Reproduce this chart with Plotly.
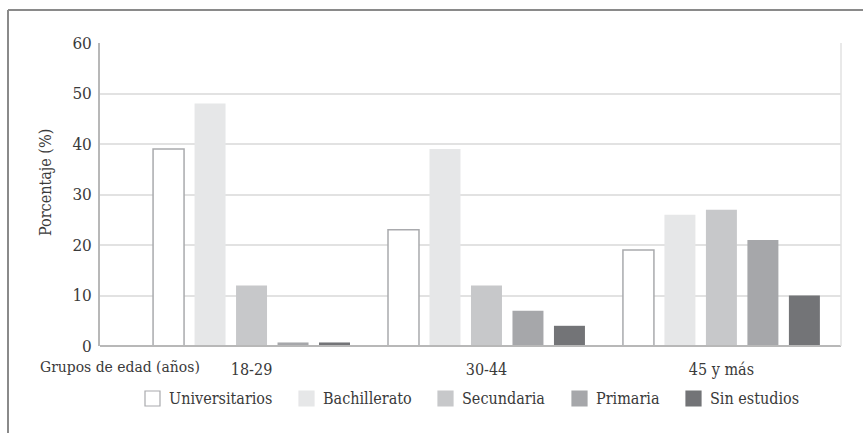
import plotly.graph_objects as go

# Age groups and share (%) of each education level within them
grupos = ["18-29", "30-44", "45 y más"]
niveles = ["Universitarios", "Bachillerato", "Secundaria", "Primaria", "Sin estudios"]
universitarios = [39, 23, 19]
bachillerato = [48, 39, 26]
secundaria = [12, 12, 27]
primaria = [0.7, 7, 21]
sin_estudios = [0.7, 4, 10]

valores = [universitarios, bachillerato, secundaria, primaria, sin_estudios]
rellenos = ["#ffffff", "#e6e7e8", "#c7c8ca", "#a6a7aa", "#737477"]
bordes = ["#a9aaad", "#e6e7e8", "#c7c8ca", "#a6a7aa", "#737477"]
grosor = [1.5, 0, 0, 0, 0]

FUENTE = "DejaVu Serif Condensed, DejaVu Serif, serif"
TEXTO = "#3a3a3a"

xpos = list(range(len(grupos)))

fig = go.Figure()
for nombre, vals, relleno, borde, g in zip(niveles, valores, rellenos, bordes, grosor):
    fig.add_trace(go.Bar(
        x=xpos, y=vals, name=nombre,
        marker=dict(color=relleno, line=dict(color=borde, width=g)),
        hoverinfo="y+name", showlegend=False,
    ))

W, H = 863, 433
L, R, T, B = 100, 22, 43, 87
pw, ph = W - L - R, H - T - B

def px_x(p):
    return (p - L) / pw

def px_y(p):
    return (H - B - p) / ph

fig.update_layout(
    width=W, height=H,
    margin=dict(l=L, r=R, t=T, b=B, pad=0),
    paper_bgcolor="white", plot_bgcolor="white",
    barmode="group", bargap=0.117, bargroupgap=0.253,
    font=dict(family=FUENTE, size=15, color=TEXTO),
    xaxis=dict(
        range=[-0.645, 2.509], tickvals=xpos, ticktext=grupos,
        showgrid=False, zeroline=False, showline=False, ticks="", ticklen=0,
        ticklabelstandoff=12, tickfont=dict(size=16), fixedrange=True,
    ),
    yaxis=dict(
        range=[0, 60], dtick=10, showgrid=True, gridcolor="#e2e2e2", gridwidth=1.5,
        zeroline=False, showline=True, linecolor="#b8b8b8", linewidth=1.5,
        ticks="", ticklen=0, ticklabelstandoff=3, tickfont=dict(size=17),
        fixedrange=True,
    ),
)

# x-axis caption on the left of the category labels
fig.add_annotation(
    text="Grupos de edad (años)", xref="paper", yref="paper",
    x=px_x(38), y=px_y(367), xanchor="left", yanchor="middle",
    showarrow=False, font=dict(size=15.5, color=TEXTO),
)
# y-axis title
fig.add_annotation(
    text="Porcentaje (%)", xref="paper", yref="paper",
    x=px_x(45), y=px_y(182), xanchor="center", yanchor="middle",
    textangle=-90, showarrow=False, font=dict(size=16, color=TEXTO),
)

# legend row: swatch + label for each education level
leyenda_x = [145, 299, 438, 572, 686]
lado = 15
cy = 398.5
for nombre, relleno, borde, g, x0 in zip(niveles, rellenos, bordes, grosor, leyenda_x):
    fig.add_shape(
        type="rect", xref="paper", yref="paper",
        x0=px_x(x0), x1=px_x(x0 + lado), y0=px_y(cy - lado / 2), y1=px_y(cy + lado / 2),
        fillcolor=relleno, line=dict(color=borde if g else relleno, width=1.2),
    )
    fig.add_annotation(
        text=nombre, xref="paper", yref="paper",
        x=px_x(x0 + lado + 7), y=px_y(cy), xanchor="left", yanchor="middle",
        showarrow=False, font=dict(size=16, color=TEXTO),
    )

# baseline, right border of the plot area and the outer frame
fig.add_shape(type="line", xref="paper", yref="paper", x0=0, x1=1, y0=0, y1=0,
              line=dict(color="#b8b8b8", width=2))
fig.add_shape(type="line", xref="paper", yref="paper", x0=1, x1=1, y0=0, y1=1,
              line=dict(color="#e2e2e2", width=1.5))
fig.add_shape(type="line", xref="paper", yref="paper",
              x0=px_x(8), x1=px_x(W + 2), y0=px_y(10), y1=px_y(10),
              line=dict(color="#8a8a8a", width=2))
fig.add_shape(type="line", xref="paper", yref="paper",
              x0=px_x(8), x1=px_x(8), y0=px_y(10), y1=px_y(H + 2),
              line=dict(color="#8a8a8a", width=2))

fig.write_html("out.html")
